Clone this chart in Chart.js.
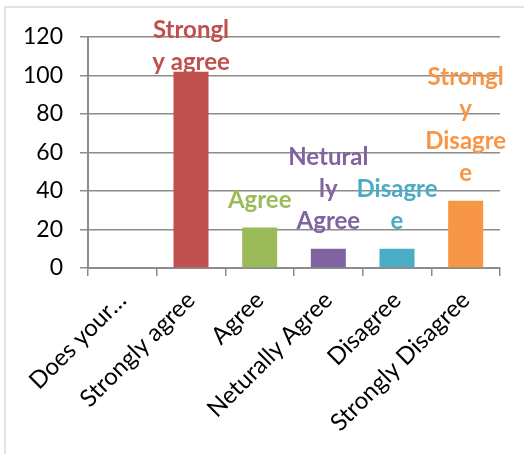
<!DOCTYPE html>
<html>
<head>
<meta charset="utf-8">
<script src="https://cdn.jsdelivr.net/npm/chart.js@4"></script>
<style>
  html, body { margin: 0; padding: 0; background: #ffffff; }
  #wrap { width: 524px; height: 454px; position: relative; }
</style>
</head>
<body>
<div id="wrap"><canvas id="chart" width="524" height="454"></canvas></div>
<script>
// Survey responses
const categories = ["Does your…", "Strongly agree", "Agree", "Neturally Agree", "Disagree", "Strongly Disagree"];
const responses = [null, 102, 21, 10, 10, 35];
const barColors = ["#4F81BD", "#C0504D", "#9BBB59", "#8064A2", "#4BACC6", "#F79646"];
// Category names as they wrap above each bar
const barLabelLines = [
  [],
  ["Strongl", "y agree"],
  ["Agree"],
  ["Netural", "ly", "Agree"],
  ["Disagre", "e"],
  ["Strongl", "y", "Disagre", "e"]
];
const yTicks = [0, 20, 40, 60, 80, 100, 120];

const FONT = "Lato, 'Open Sans', sans-serif";
const GRID = "#8C8C8C";

const frame = {
  id: "frame",
  beforeDraw(chart) {
    const ctx = chart.ctx;
    ctx.save();
    ctx.fillStyle = "#ffffff";
    ctx.fillRect(0, 0, chart.width, chart.height);
    ctx.strokeStyle = "#D9D9D9";
    ctx.lineWidth = 1.5;
    ctx.strokeRect(5, 7, 540, 470);
    ctx.restore();
  }
};

const barLabels = {
  id: "barLabels",
  afterDatasetsDraw(chart) {
    const ctx = chart.ctx;
    const meta = chart.getDatasetMeta(0);
    const lh = 32;
    ctx.save();
    ctx.font = "bold 24px " + FONT;
    ctx.textAlign = "center";
    ctx.textBaseline = "middle";
    meta.data.forEach((bar, i) => {
      const lines = barLabelLines[i];
      if (!lines.length || responses[i] == null) return;
      let bottom = bar.y - 27;
      let top = bottom - (lines.length - 1) * lh;
      if (top < 30) { bottom += 30 - top; top = 30; }
      ctx.fillStyle = barColors[i];
      lines.forEach((t, k) => ctx.fillText(t, bar.x, top + k * lh));
    });
    ctx.restore();
  }
};

new Chart(document.getElementById("chart"), {
  type: "bar",
  data: {
    labels: categories,
    datasets: [{
      data: responses,
      backgroundColor: barColors,
      borderWidth: 0,
      categoryPercentage: 1,
      barPercentage: 0.51
    }]
  },
  options: {
    responsive: false,
    animation: false,
    layout: { padding: { left: 0, right: 24, top: 37, bottom: 0 } },
    plugins: { legend: { display: false }, tooltip: { enabled: false } },
    scales: {
      x: {
        offset: true,
        grid: { display: true, drawOnChartArea: false, drawTicks: true, tickLength: 8, color: GRID, lineWidth: 1.5, offset: true },
        border: { display: true, color: GRID, width: 2 },
        ticks: { color: "#000", font: { family: FONT, size: 24 }, maxRotation: 45, minRotation: 45, padding: 10, autoSkip: false },
        afterFit(s) { s.height = 454 - 268; }
      },
      y: {
        min: 0, max: 120,
        afterBuildTicks(s) { s.ticks = yTicks.map(v => ({ value: v })); },
        grid: { color: GRID, lineWidth: 1.5, tickLength: 8 },
        border: { display: true, color: GRID, width: 2 },
        ticks: { color: "#000", font: { family: FONT, size: 23 }, padding: 17 },
        afterFit(s) { s.width = 88; }
      }
    }
  },
  plugins: [frame, barLabels]
});
</script>
</body>
</html>
